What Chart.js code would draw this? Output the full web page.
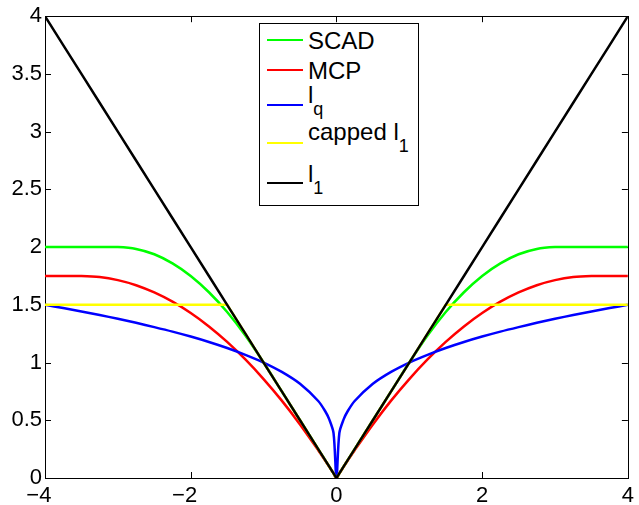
<!DOCTYPE html>
<html>
<head>
<meta charset="utf-8">
<script src="https://cdn.jsdelivr.net/npm/chart.js@4/dist/chart.umd.min.js"></script>
<style>
  body { margin: 0; background: #fff; }
  #wrap { position: relative; width: 639px; height: 505px; font-family: 'Liberation Sans', Arial, Helvetica, sans-serif; }
  #legend { position: absolute; left: 259px; top: 23px; width: 158px; height: 181px; border: 1px solid #000; background: #fff; }
  .swatch { position: absolute; left: 267px; width: 36px; height: 2px; }
  .label { position: absolute; left: 308px; font-size: 24px; line-height: 24px; color: #000; white-space: nowrap; }
  .sub { position: relative; top: 12px; font-size: 18px; }
</style>
</head>
<body>
<div id="wrap">
  <canvas id="plot" width="639" height="505"></canvas>
  <div id="legend"></div>
</div>
<script>
// x座標（全系列共通）
const xs = [-4, -3.75, -3.5, -3.25, -3, -2.75, -2.5, -2.25, -2, -1.75, -1.5, -1.25, -1, -0.75, -0.5, -0.25, -0.15, -0.1, -0.04, 0,
  0.04, 0.1, 0.15, 0.25, 0.5, 0.75, 1, 1.25, 1.5, 1.75, 2, 2.25, 2.5, 2.75, 3, 3.25, 3.5, 3.75, 4];

// 各ペナルティの値
const scad = [2, 2, 2, 2, 2, 1.984, 1.938, 1.859, 1.75, 1.609, 1.438, 1.234, 1, 0.75, 0.5, 0.25, 0.15, 0.1, 0.04, 0,
  0.04, 0.1, 0.15, 0.25, 0.5, 0.75, 1, 1.234, 1.438, 1.609, 1.75, 1.859, 1.938, 1.984, 2, 2, 2, 2, 2];
const mcp = [1.75, 1.75, 1.75, 1.741, 1.714, 1.67, 1.607, 1.527, 1.429, 1.313, 1.179, 1.027, 0.857, 0.67, 0.464, 0.241, 0.147, 0.099, 0.04, 0,
  0.04, 0.099, 0.147, 0.241, 0.464, 0.67, 0.857, 1.027, 1.179, 1.313, 1.429, 1.527, 1.607, 1.67, 1.714, 1.741, 1.75, 1.75, 1.75];
const lq = [1.5, 1.472, 1.443, 1.412, 1.379, 1.344, 1.307, 1.268, 1.225, 1.178, 1.126, 1.067, 1, 0.919, 0.816, 0.667, 0.574, 0.51, 0.39, 0,
  0.39, 0.51, 0.574, 0.667, 0.816, 0.919, 1, 1.067, 1.126, 1.178, 1.225, 1.268, 1.307, 1.344, 1.379, 1.412, 1.443, 1.472, 1.5];
const cappedL1 = [1.5, 1.5, 1.5, 1.5, 1.5, 1.5, 1.5, 1.5, 1.5, 1.5, 1.5, 1.25, 1, 0.75, 0.5, 0.25, 0.15, 0.1, 0.04, 0,
  0.04, 0.1, 0.15, 0.25, 0.5, 0.75, 1, 1.25, 1.5, 1.5, 1.5, 1.5, 1.5, 1.5, 1.5, 1.5, 1.5, 1.5, 1.5];
const l1 = [4, 3.75, 3.5, 3.25, 3, 2.75, 2.5, 2.25, 2, 1.75, 1.5, 1.25, 1, 0.75, 0.5, 0.25, 0.15, 0.1, 0.04, 0,
  0.04, 0.1, 0.15, 0.25, 0.5, 0.75, 1, 1.25, 1.5, 1.75, 2, 2.25, 2.5, 2.75, 3, 3.25, 3.5, 3.75, 4];

const xTicks = [-4, -2, 0, 2, 4];
const yTicks = [0, 0.5, 1, 1.5, 2, 2.5, 3, 3.5, 4];

// 凡例（HTMLで描いて添字を出す）
const legendItems = [
  { html: 'SCAD', color: '#00ff00', lineY: 40, textTop: 29 },
  { html: 'MCP', color: '#ff0000', lineY: 70, textTop: 59 },
  { html: 'l<span class="sub">q</span>', color: '#0000ff', lineY: 105, textTop: 83 },
  { html: 'capped l<span class="sub">1</span>', color: '#ffff00', lineY: 143, textTop: 120 },
  { html: 'l<span class="sub">1</span>', color: '#000000', lineY: 183, textTop: 162 }
];

const FONT = "'Liberation Sans', Arial, Helvetica, sans-serif";

function toPoints(ys) {
  return xs.map((x, i) => ({ x: x, y: ys[i] }));
}

// 枠と内向きの目盛り（MATLAB風）
const boxTicks = {
  id: 'boxTicks',
  beforeDatasetsDraw(chart) {
    const { ctx, chartArea: a, scales: { x, y } } = chart;
    ctx.save();
    ctx.strokeStyle = '#000';
    ctx.lineWidth = 1;
    ctx.beginPath();
    xTicks.forEach(v => {
      const px = Math.round(x.getPixelForValue(v)) + 0.5;
      ctx.moveTo(px, a.bottom); ctx.lineTo(px, a.bottom - 6);
      ctx.moveTo(px, a.top); ctx.lineTo(px, a.top + 6);
    });
    yTicks.forEach(v => {
      const py = Math.round(y.getPixelForValue(v)) + 0.5;
      ctx.moveTo(a.left, py); ctx.lineTo(a.left + 6, py);
      ctx.moveTo(a.right, py); ctx.lineTo(a.right - 6, py);
    });
    ctx.stroke();
    ctx.strokeRect(Math.round(a.left) + 0.5, Math.round(a.top) + 0.5, Math.round(a.right - a.left), Math.round(a.bottom - a.top));
    ctx.restore();
  }
};

function makeSet(label, ys, color, order, tension) {
  return {
    label: label,
    data: toPoints(ys),
    borderColor: color,
    backgroundColor: color,
    borderWidth: 2.5,
    pointRadius: 0,
    tension: tension,
    fill: false,
    order: order
  };
}

function renderChart() {
  const ctx = document.getElementById('plot').getContext('2d');
  new Chart(ctx, {
    type: 'line',
    data: {
      datasets: [
        makeSet('SCAD', scad, '#00ff00', 4, 0.3),
        makeSet('MCP', mcp, '#ff0000', 3, 0.3),
        makeSet('lq', lq, '#0000ff', 2, 0.3),
        makeSet('capped l1', cappedL1, '#ffff00', 1, 0),
        makeSet('l1', l1, '#000000', 0, 0)
      ]
    },
    options: {
      responsive: false,
      animation: false,
      layout: { padding: { top: 16, right: 7, left: 0, bottom: 0 } },
      plugins: { legend: { display: false }, tooltip: { enabled: false } },
      scales: {
        x: {
          type: 'linear',
          min: -4, max: 4,
          afterFit: s => { s.height = 27; },
          afterBuildTicks: s => { s.ticks = xTicks.map(v => ({ value: v })); },
          grid: { display: false, drawTicks: false },
          border: { display: false },
          ticks: {
            padding: 5,
            color: '#000',
            font: { family: FONT, size: 22 },
            // マイナス記号の分だけ右に空けて数字を目盛りの中心に
            callback: v => v < 0 ? '\u2212' + Math.abs(v) + '\u2007' : String(v)
          }
        },
        y: {
          type: 'linear',
          min: 0, max: 4,
          afterFit: s => { s.width = 45; },
          afterBuildTicks: s => { s.ticks = yTicks.map(v => ({ value: v })); },
          grid: { display: false, drawTicks: false },
          border: { display: false },
          ticks: {
            padding: 3,
            color: '#000',
            font: { family: FONT, size: 22 },
            callback: v => String(v)
          }
        }
      }
    },
    plugins: [boxTicks]
  });
}

function renderLegend() {
  const wrap = document.getElementById('wrap');
  legendItems.forEach(item => {
    const sw = document.createElement('div');
    sw.className = 'swatch';
    sw.style.top = (item.lineY - 1) + 'px';
    sw.style.background = item.color;
    wrap.appendChild(sw);

    const lb = document.createElement('div');
    lb.className = 'label';
    lb.style.top = item.textTop + 'px';
    lb.innerHTML = item.html;
    wrap.appendChild(lb);
  });
}

renderChart();
renderLegend();
</script>
</body>
</html>
